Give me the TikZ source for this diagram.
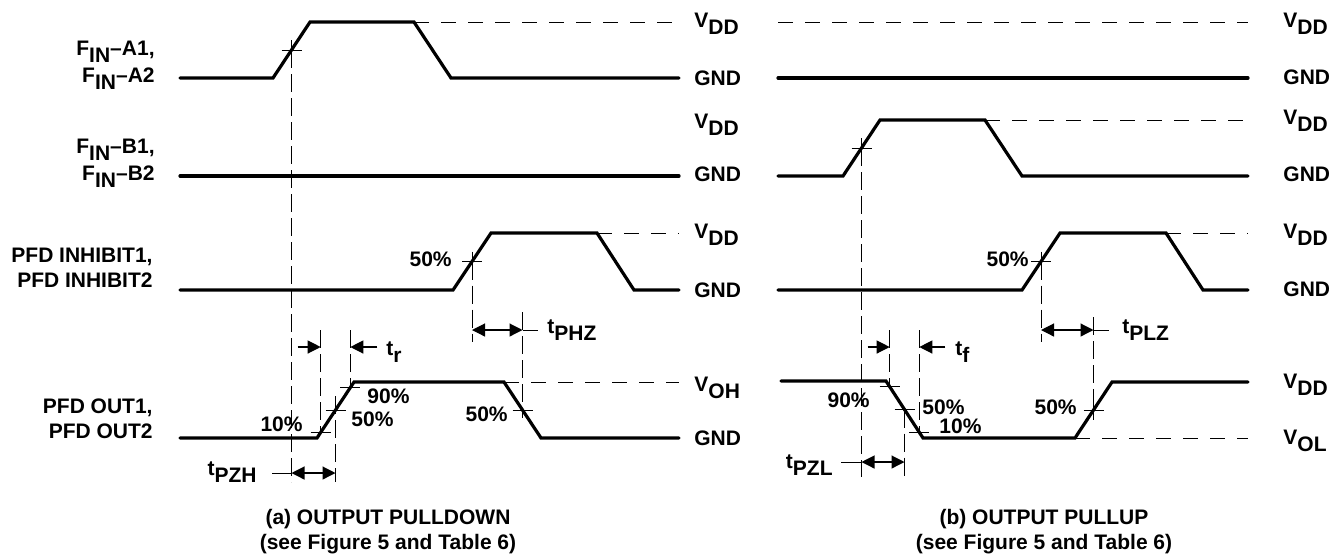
\documentclass[tikz,border=0pt]{standalone}
\usepackage{fontspec}
\setmainfont{Liberation Sans}
\usetikzlibrary{arrows.meta,calc}

\newcommand{\lblfont}{\fontsize{10.5}{12}\selectfont\bfseries}
\newcommand{\lowsub}[1]{\raisebox{-3.6pt}{#1}}

\tikzstyle{sig} = [line width=1.6pt, line cap=round, line join=miter]
\tikzstyle{hguide} = [line width=0.5pt, dash pattern=on 7.5pt off 6pt]
\tikzstyle{vguide} = [line width=0.5pt, dash pattern=on 9pt off 3pt]
\tikzstyle{tick} = [line width=0.5pt]
\tikzstyle{arr} = [line width=0.6pt, -{Triangle[length=6.5pt,width=6.5pt]}]
\tikzstyle{dim} = [line width=0.6pt, {Triangle[length=6.5pt,width=6.5pt]}-{Triangle[length=6.5pt,width=6.5pt]}]
\tikzstyle{lbl} = [inner sep=0pt, font=\lblfont]

\begin{document}
\begin{tikzpicture}[x=0.5pt, y=-0.5pt]
    \useasboundingbox (0,0) rectangle (1333,554);

    % rows for the time marks
    \coordinate (phzrow) at (0,330);
    \coordinate (trrow)  at (0,347);
    \coordinate (pzhrow) at (0,473);
    \coordinate (pzlrow) at (0,462);

    % (a) output pulldown
    \draw [sig] (180,78) -- (273,78) -- (310,22) -- (414,22) -- (451,78) -- (679,78);
    \draw [hguide] (414,22) -- (679,22);
    \draw [sig] (180,176) -- (679,176);
    \draw [sig] (180,290) -- (453,290) -- (491,233) -- (597,233) -- (634,290) -- (679,290);
    \draw [hguide] (597,233) -- (679,233);
    \draw [sig] (180,438) -- (317,438) -- (354,382) -- (504,382) -- (541,438) -- (679,438);
    \draw [hguide] (504,382) -- (679,382);

    \coordinate (amid) at (291.5,50);
    \coordinate (imid) at (472,261.5);
    \coordinate (rten) at (320.7,432.4);
    \coordinate (rfif) at (335.5,410);
    \coordinate (rnin) at (350.3,387.6);
    \coordinate (ffif) at (522.5,410);

    \foreach \p in {amid, imid}
        \draw [tick] ([xshift=-5pt]\p) -- ([xshift=5pt]\p) ([yshift=5pt]\p) -- ([yshift=-5pt]\p);
    \foreach \p in {rten, rfif, rnin, ffif}
        \draw [tick] ([xshift=-5pt]\p) -- ([xshift=5pt]\p);

    \draw [vguide] (amid) -- ($(amid |- pzhrow)+(0,9)$);
    \draw [vguide] (imid) -- ($(imid |- phzrow)+(0,12)$);
    \draw [vguide] ($(ffif |- phzrow)+(0,-18)$) -- ($(ffif)+(0,8)$);
    \draw [vguide] ($(rten |- trrow)+(0,-17)$) -- (rten);
    \draw [vguide] ($(rnin |- trrow)+(0,-17)$) -- (rnin);
    \draw [vguide] ($(rfif)+(0,-14)$) -- ($(rfif |- pzhrow)+(0,9)$);

    \draw [arr] ($(rten |- trrow)+(-23,0)$) -- (rten |- trrow);
    \draw [arr] ($(rnin |- trrow)+(27,0)$) -- (rnin |- trrow);
    \draw [dim] (amid |- pzhrow) -- (rfif |- pzhrow);
    \draw [tick] (amid |- pzhrow) -- ++(-20,0);
    \draw [dim] (imid |- phzrow) -- (ffif |- phzrow);
    \draw [tick] (ffif |- phzrow) -- ++(15,0);

    \node [lbl, anchor=base east] (fa1) at (155,55) {F\lowsub{IN}--A1,};
    \node [lbl, anchor=base east] (fa2) at (155,82) {F\lowsub{IN}--A2};
    \node [lbl, anchor=base east] (fb1) at (155,153) {F\lowsub{IN}--B1,};
    \node [lbl, anchor=base east] (fb2) at (155,180) {F\lowsub{IN}--B2};
    \node [lbl, anchor=base east] (inh1) at (153,262) {PFD INHIBIT1,};
    \node [lbl, anchor=base east] (inh2) at (153,287) {PFD INHIBIT2};
    \node [lbl, anchor=base east] (out1) at (153,413) {PFD OUT1,};
    \node [lbl, anchor=base east] (out2) at (153,438) {PFD OUT2};

    \node [lbl, anchor=base west] (avdd1) at (694,27) {V\lowsub{DD}};
    \node [lbl, anchor=base west] (agnd1) at (694,85) {GND};
    \node [lbl, anchor=base west] (avdd2) at (694,128) {V\lowsub{DD}};
    \node [lbl, anchor=base west] (agnd2) at (694,181) {GND};
    \node [lbl, anchor=base west] (avdd3) at (694,238) {V\lowsub{DD}};
    \node [lbl, anchor=base west] (agnd3) at (694,297) {GND};
    \node [lbl, anchor=base west] (avoh) at (694,391) {V\lowsub{OH}};
    \node [lbl, anchor=base west] (agnd4) at (694,445) {GND};

    \node [lbl, anchor=base east] (ainh50) at (452,266) {50\%};
    \node [lbl, anchor=base east] (ar10) at (303,431) {10\%};
    \node [lbl, anchor=base west] (ar90) at (367,403) {90\%};
    \node [lbl, anchor=base west] (ar50) at (351,426) {50\%};
    \node [lbl, anchor=base east] (af50) at (508,421) {50\%};
    \node [lbl, anchor=base west] (tr) at (386,355) {t\lowsub{r}};
    \node [lbl, anchor=base west] (tphz) at (547,333) {t\lowsub{PHZ}};
    \node [lbl, anchor=base east] (tpzh) at (257,475) {t\lowsub{PZH}};

    \node [lbl, anchor=base] (capa1) at (388,524) {(a) OUTPUT PULLDOWN};
    \node [lbl, anchor=base] (capa2) at (388,549) {(see Figure 5 and Table 6)};

    % (b) output pullup
    \draw [hguide] (778,22) -- (1248,22);
    \draw [sig] (778,78) -- (1248,78);
    \draw [sig] (778,176) -- (843,176) -- (880,120) -- (985,120) -- (1022,176) -- (1248,176);
    \draw [hguide] (985,120) -- (1248,120);
    \draw [sig] (778,290) -- (1022,290) -- (1060,233) -- (1166,233) -- (1203,290) -- (1248,290);
    \draw [hguide] (1166,233) -- (1248,233);
    \draw [sig] (781,381) -- (886,381) -- (923,438) -- (1075,438) -- (1112,382) -- (1248,382);
    \draw [hguide] (1075,438) -- (1248,438);

    \coordinate (bmid) at (861.5,148);
    \coordinate (jmid) at (1041,261.5);
    \coordinate (fnin) at (889.7,386.7);
    \coordinate (fhalf) at (904.5,409.5);
    \coordinate (ften) at (919.3,432.3);
    \coordinate (rhalf) at (1093.5,410);

    \foreach \p in {bmid, jmid, rhalf}
        \draw [tick] ([xshift=-5pt]\p) -- ([xshift=5pt]\p) ([yshift=5pt]\p) -- ([yshift=-5pt]\p);
    \foreach \p in {fnin, fhalf, ften}
        \draw [tick] ([xshift=-5pt]\p) -- ([xshift=5pt]\p);

    \draw [vguide] (bmid) -- ($(bmid |- pzlrow)+(0,15)$);
    \draw [vguide] (jmid) -- ($(jmid |- phzrow)+(0,12)$);
    \draw [vguide] ($(rhalf |- phzrow)+(0,-13)$) -- (rhalf);
    \draw [vguide] ($(fnin |- trrow)+(0,-17)$) -- (fnin);
    \draw [vguide] ($(ften |- trrow)+(0,-17)$) -- (ften);
    \draw [vguide] (fhalf) -- ($(fhalf |- pzlrow)+(0,15)$);

    \draw [arr] ($(fnin |- trrow)+(-22,0)$) -- (fnin |- trrow);
    \draw [arr] ($(ften |- trrow)+(26,0)$) -- (ften |- trrow);
    \draw [dim] (bmid |- pzlrow) -- (fhalf |- pzlrow);
    \draw [tick] (bmid |- pzlrow) -- ++(-21,0);
    \draw [dim] (jmid |- phzrow) -- (rhalf |- phzrow);
    \draw [tick] (rhalf |- phzrow) -- ++(15,0);

    \node [lbl, anchor=base west] (bvdd1) at (1283,27) {V\lowsub{DD}};
    \node [lbl, anchor=base west] (bgnd1) at (1283,84) {GND};
    \node [lbl, anchor=base west] (bvdd2) at (1283,124) {V\lowsub{DD}};
    \node [lbl, anchor=base west] (bgnd2) at (1283,181) {GND};
    \node [lbl, anchor=base west] (bvdd3) at (1283,238) {V\lowsub{DD}};
    \node [lbl, anchor=base west] (bgnd3) at (1283,296) {GND};
    \node [lbl, anchor=base west] (bvdd4) at (1283,388) {V\lowsub{DD}};
    \node [lbl, anchor=base west] (bvol) at (1283,444) {V\lowsub{OL}};

    \node [lbl, anchor=base east] (binh50) at (1029,266) {50\%};
    \node [lbl, anchor=base east] (bf90) at (870,407) {90\%};
    \node [lbl, anchor=base west] (bf50) at (922,414) {50\%};
    \node [lbl, anchor=base west] (bf10) at (939,433) {10\%};
    \node [lbl, anchor=base east] (br50) at (1077,414) {50\%};
    \node [lbl, anchor=base west] (tf) at (955,355) {t\lowsub{f}};
    \node [lbl, anchor=base west] (tplz) at (1122,333) {t\lowsub{PLZ}};
    \node [lbl, anchor=base east] (tpzl) at (833,468) {t\lowsub{PZL}};

    \node [lbl, anchor=base] (capb1) at (1044,524) {(b) OUTPUT PULLUP};
    \node [lbl, anchor=base] (capb2) at (1044,549) {(see Figure 5 and Table 6)};
\end{tikzpicture}
\end{document}
